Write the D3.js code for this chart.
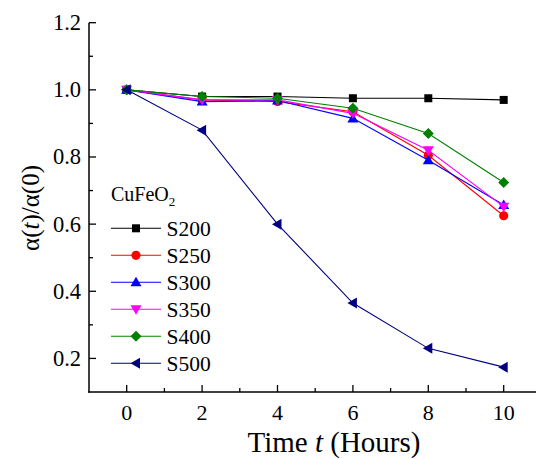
<!DOCTYPE html>
<html><head><meta charset="utf-8">
<script src="https://cdn.jsdelivr.net/npm/d3@7"></script>
<style>body{margin:0;background:#fff}svg{display:block}</style>
</head><body>
<svg id="c" width="536" height="459" font-family="Liberation Serif, Times New Roman, serif"></svg>
<script>
const times = [0, 2, 4, 6, 8, 10];
const seriesNames = ["S200", "S250", "S300", "S350", "S400", "S500"];
const S200 = [1.0, 0.98, 0.98, 0.975, 0.975, 0.97];
const S250 = [1.0, 0.97, 0.965, 0.935, 0.805, 0.625];
const S300 = [1.0, 0.965, 0.968, 0.915, 0.79, 0.657];
const S350 = [1.0, 0.97, 0.97, 0.93, 0.82, 0.652];
const S400 = [1.0, 0.98, 0.975, 0.945, 0.87, 0.724];
const S500 = [1.0, 0.88, 0.60, 0.365, 0.23, 0.174];
const xTicks = [0, 2, 4, 6, 8, 10];
const yTicks = [0.2, 0.4, 0.6, 0.8, 1.0, 1.2];

const values = [S200, S250, S300, S350, S400, S500];
const colors = ["#000000", "#ff0000", "#0000ff", "#ff00ff", "#008000", "#000080"];
const shapes = ["square", "circle", "triangle", "down", "diamond", "left"];
const FONT = "'Liberation Serif', 'Times New Roman', serif";

const svg = d3.select("#c");
const x = d3.scaleLinear().domain([-1, 11]).range([89, 541.4]);
const y = d3.scaleLinear().domain([0.1, 1.2]).range([392, 22.7]);

function marker(g, shape, cx, cy, color) {
  let p;
  if (shape === "square") p = g.append("rect").attr("x", cx-4).attr("y", cy-4).attr("width", 8).attr("height", 8);
  else if (shape === "circle") p = g.append("circle").attr("cx", cx).attr("cy", cy).attr("r", 4.6);
  else if (shape === "triangle") p = g.append("path").attr("d", `M${cx},${cy-5.5}L${cx+5.5},${cy+4}L${cx-5.5},${cy+4}Z`);
  else if (shape === "down") p = g.append("path").attr("d", `M${cx},${cy+5.5}L${cx+5.5},${cy-4}L${cx-5.5},${cy-4}Z`);
  else if (shape === "diamond") p = g.append("path").attr("d", `M${cx},${cy-5.5}L${cx+5.5},${cy}L${cx},${cy+5.5}L${cx-5.5},${cy}Z`);
  else if (shape === "left") p = g.append("path").attr("d", `M${cx-5.5},${cy}L${cx+4},${cy-5.5}L${cx+4},${cy+5.5}Z`);
  p.attr("fill", color);
}

// axes
const ax = svg.append("g").attr("stroke", "#000").attr("stroke-width", 1.5);
ax.append("line").attr("x1", 89).attr("x2", 89).attr("y1", 22.7).attr("y2", 392.75);
ax.append("line").attr("x1", 88.25).attr("x2", 536).attr("y1", 392).attr("y2", 392);
d3.range(0, 11, 1).forEach(v => {
  const major = v % 2 === 0;
  ax.append("line").attr("x1", x(v)).attr("x2", x(v)).attr("y1", 392).attr("y2", 392 - (major ? 7 : 4)).attr("stroke-width", 1.3);
});
d3.range(2, 13, 1).forEach(i => {
  const v = i / 10;
  const major = i % 2 === 0;
  ax.append("line").attr("x1", 89).attr("x2", 89 + (major ? 7 : 4)).attr("y1", y(v)).attr("y2", y(v)).attr("stroke-width", 1.3);
});
svg.append("g").selectAll("text").data(xTicks).join("text")
  .attr("font-family", FONT)
  .attr("x", d => x(d)).attr("y", 419.5).attr("text-anchor", "middle").attr("font-size", 22).text(d => d);
svg.append("g").selectAll("text").data(yTicks).join("text")
  .attr("font-family", FONT)
  .attr("x", 81).attr("y", d => y(d) + 7.5).attr("text-anchor", "end").attr("font-size", 22.5).text(d => d.toFixed(1));

// axis titles
const xt = svg.append("text").attr("font-family", FONT).attr("x", 334).attr("y", 452).attr("text-anchor", "middle").attr("font-size", 29);
xt.append("tspan").text("Time ");
xt.append("tspan").attr("font-style", "italic").text("t");
xt.append("tspan").text(" (Hours)");
const yt = svg.append("text").attr("font-family", FONT).attr("transform", "translate(39,208) rotate(-90)").attr("text-anchor", "middle").attr("font-size", 25);
yt.append("tspan").text("α(");
yt.append("tspan").attr("font-style", "italic").text("t");
yt.append("tspan").text(")/α(0)");

// series
const line = d3.line().x((d, i) => x(times[i])).y(d => y(d));
values.forEach((vals, k) => {
  const g = svg.append("g");
  g.append("path").attr("d", line(vals)).attr("fill", "none").attr("stroke", colors[k]).attr("stroke-width", 1.1);
  vals.forEach((v, i) => marker(g, shapes[k], x(times[i]), y(v), colors[k]));
});

// legend
const lt = svg.append("text").attr("font-family", FONT).attr("x", 111).attr("y", 201).attr("font-size", 20);
lt.append("tspan").text("CuFeO");
lt.append("tspan").attr("font-size", 13).attr("dy", 5).text("2");
seriesNames.forEach((n, k) => {
  const cy = 228.3 + k * 27;
  const g = svg.append("g");
  g.append("line").attr("x1", 111).attr("x2", 161).attr("y1", cy).attr("y2", cy).attr("stroke", colors[k]).attr("stroke-width", 1.1);
  marker(g, shapes[k], 136, cy, colors[k]);
  g.append("text").attr("font-family", FONT).attr("x", 166.5).attr("y", cy + 7.3).attr("font-size", 21.5).text(n);
});
</script>
</body></html>
